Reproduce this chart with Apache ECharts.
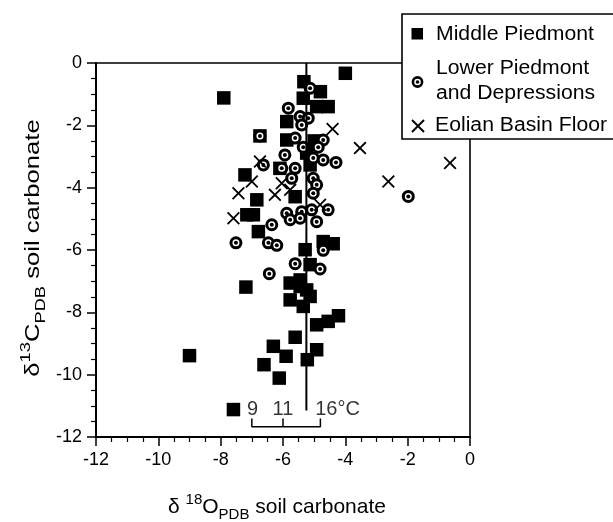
<!DOCTYPE html>
<html><head><meta charset="utf-8">
<script src="https://cdn.jsdelivr.net/npm/echarts@6/dist/echarts.min.js"></script>
<style>html,body{margin:0;padding:0;background:#fff}#c{width:613px;height:522px}</style>
</head><body><div id="c"></div>
<script>
// ---- data (δ18O, δ13C) ----
const middlePiedmont = [
  [-4.0,-0.33],[-7.9,-1.12],[-5.33,-0.6],[-4.8,-0.92],[-5.35,-1.13],[-4.55,-1.4],[-4.92,-1.4],
  [-5.88,-1.88],[-5.88,-2.47],[-6.74,-2.34],[-5.0,-2.5],[-5.24,-2.89],[-5.13,-3.27],[-6.1,-3.38],
  [-7.22,-3.59],[-6.84,-4.39],[-5.61,-4.29],[-6.95,-4.87],[-7.16,-4.87],[-6.79,-5.41],
  [-4.71,-5.73],[-4.39,-5.8],[-5.29,-5.99],[-7.19,-7.19],[-5.77,-7.06],[-5.45,-6.96],
  [-5.13,-6.47],[-5.24,-7.28],[-5.77,-7.6],[-5.35,-7.81],[-5.13,-7.49],[-5.45,-7.17],
  [-4.92,-8.4],[-4.55,-8.29],[-4.22,-8.11],[-5.61,-8.8],[-4.92,-9.2],[-6.31,-9.09],
  [-5.9,-9.41],[-5.22,-9.52],[-6.61,-9.68],[-6.12,-10.11],[-7.59,-11.12],[-9.0,-9.39]
];
const lowerPiedmont = [
  [-5.13,-0.81],[-5.83,-1.45],[-5.45,-1.72],[-5.19,-1.77],[-5.4,-1.99],[-6.74,-2.34],
  [-5.61,-2.41],[-4.71,-2.47],[-5.35,-2.7],[-4.87,-2.7],[-5.94,-2.95],[-5.03,-3.05],
  [-4.71,-3.11],[-4.3,-3.19],[-6.04,-3.38],[-5.61,-3.38],[-5.03,-3.7],[-5.72,-3.7],
  [-4.92,-3.91],[-5.03,-4.18],[-4.55,-4.71],[-5.88,-4.82],[-5.4,-4.77],[-5.08,-4.71],
  [-5.77,-5.03],[-5.45,-4.98],[-4.92,-5.09],[-6.36,-5.19],[-6.63,-3.27],[-7.51,-5.77],
  [-6.47,-5.77],[-6.2,-5.85],[-4.71,-6.01],[-5.61,-6.44],[-4.81,-6.61],[-6.44,-6.76],
  [-1.98,-4.28]
];
const eolianBasinFloor = [
  [-4.41,-2.12],[-3.53,-2.73],[-0.64,-3.21],[-2.62,-3.8],[-6.74,-3.16],[-7.0,-3.8],
  [-7.43,-4.18],[-6.26,-4.23],[-6.04,-3.86],[-5.77,-4.07],[-7.59,-4.98],[-4.81,-4.55]
];
const legendNames = ['Middle Piedmont', 'Lower Piedmont', 'and Depressions', 'Eolian Basin Floor'];
// temperature annotation
const tempLineX = -5.25, tempLineTop = 0, tempLineBottom = -11.15;
const bracketX = [-7.0, -6.0, -4.8];
const bracketY = [-11.41, -11.67];
const tempLabels = ['9', '11', '16°C'];
const tempLabelX = [-6.98, -6.0, -4.25];
const tempLabelY = -11.12;
// axes
const xTicks = [-12, -10, -8, -6, -4, -2, 0];
const yTicks = [-12, -10, -8, -6, -4, -2, 0];

const FONT = "'Liberation Sans', Arial, Helvetica, sans-serif";
const chart = echarts.init(document.getElementById('c'), null, {renderer: 'canvas'});

const axisCommon = {
  axisLine: {show: true, onZero: false, lineStyle: {color: '#000', width: 2}},
  axisTick: {show: true, inside: false, length: 9, lineStyle: {color: '#000', width: 1.5}},
  minorTick: {show: true, splitNumber: 4, length: 5, lineStyle: {color: '#000', width: 1.2}},
  splitLine: {show: false},
  axisLabel: {color: '#000', fontSize: 18, fontFamily: FONT, margin: 14}
};
const hiddenAxis = {
  axisLine: {show: true, onZero: false, lineStyle: {color: '#000', width: 1.6}},
  axisTick: {show: false}, axisLabel: {show: false}, splitLine: {show: false}
};

const xPath = 'path://M1,0L5,4L9,0L10,1L6,5L10,9L9,10L5,6L1,10L0,9L4,5L0,1Z';

const richTitle = {
  n: {fontSize: 21, fontFamily: FONT, lineHeight: 30, verticalAlign: 'middle', fill: '#000'},
  sup: {fontSize: 15, fontFamily: FONT, lineHeight: 15, verticalAlign: 'top', fill: '#000'},
  sub: {fontSize: 15, fontFamily: FONT, lineHeight: 15, verticalAlign: 'bottom', fill: '#000'}
};

const option = {
  animation: false,
  backgroundColor: '#fff',
  grid: {left: 96, right: 143, top: 63, bottom: 85, containLabel: false},
  xAxis: [
    Object.assign({type: 'value', position: 'bottom', min: xTicks[0], max: xTicks[xTicks.length-1], interval: xTicks[1]-xTicks[0]}, axisCommon),
    Object.assign({type: 'value', position: 'top', min: xTicks[0], max: xTicks[xTicks.length-1]}, hiddenAxis)
  ],
  yAxis: [
    Object.assign({type: 'value', position: 'left', min: yTicks[0], max: yTicks[yTicks.length-1], interval: yTicks[1]-yTicks[0]}, axisCommon),
    Object.assign({type: 'value', position: 'right', min: yTicks[0], max: yTicks[yTicks.length-1]}, hiddenAxis)
  ],
  series: [
    {name: legendNames[0], type: 'scatter', data: middlePiedmont, symbol: 'rect', symbolSize: 13.5,
      itemStyle: {color: '#000', opacity: 1}, z: 2},
    {name: legendNames[1], type: 'scatter', data: lowerPiedmont, symbol: 'circle', symbolSize: 10,
      itemStyle: {color: '#fff', borderColor: '#000', borderWidth: 3, opacity: 1}, z: 3},
    {name: 'dots', type: 'scatter', data: lowerPiedmont, symbol: 'circle', symbolSize: 4,
      itemStyle: {color: '#000', opacity: 1}, z: 4, silent: true},
    {name: legendNames[3], type: 'scatter', data: eolianBasinFloor, symbol: xPath, symbolSize: 13,
      itemStyle: {color: '#000', opacity: 1}, z: 5},
    {type: 'line', data: [[tempLineX, tempLineTop], [tempLineX, tempLineBottom]], symbol: 'none',
      lineStyle: {color: '#000', width: 2}, z: 6, silent: true},
    {type: 'line', data: [[bracketX[0], bracketY[0]], [bracketX[0], bracketY[1]], [bracketX[2], bracketY[1]], [bracketX[2], bracketY[0]]],
      symbol: 'none', lineStyle: {color: '#000', width: 1.5}, z: 6, silent: true},
    {type: 'line', data: [[bracketX[1], bracketY[1]], [bracketX[1], bracketY[0]]],
      symbol: 'none', lineStyle: {color: '#000', width: 1.5}, z: 6, silent: true},
    {type: 'scatter', data: tempLabels.map((t, i) => [tempLabelX[i], tempLabelY, t]), symbolSize: 0,
      label: {show: true, position: 'inside', formatter: p => p.data[2], color: '#000', fontSize: 20, fontFamily: FONT},
      z: 7, silent: true}
  ],
  graphic: [
    {type: 'rect', z: 100, shape: {x: 402, y: 14, width: 260, height: 125}, style: {fill: '#fff', stroke: '#000', lineWidth: 1.6}},
    {type: 'rect', z: 101, shape: {x: 411.5, y: 28, width: 11.5, height: 11.5}, style: {fill: '#000'}},
    {type: 'circle', z: 101, shape: {cx: 417.5, cy: 82, r: 4.6}, style: {fill: '#fff', stroke: '#000', lineWidth: 2.6}},
    {type: 'circle', z: 102, shape: {cx: 417.5, cy: 82, r: 1.8}, style: {fill: '#000'}},
    {type: 'line', z: 101, shape: {x1: 412, y1: 120, x2: 424, y2: 132}, style: {stroke: '#000', lineWidth: 2}},
    {type: 'line', z: 101, shape: {x1: 424, y1: 120, x2: 412, y2: 132}, style: {stroke: '#000', lineWidth: 2}},
    {type: 'text', z: 101, x: 436, y: 34, scaleX: 1.06, style: {text: legendNames[0], fill: '#000', font: '20px ' + FONT, textAlign: 'left', textVerticalAlign: 'middle'}},
    {type: 'text', z: 101, x: 436, y: 68.5, scaleX: 1.06, style: {text: legendNames[1], fill: '#000', font: '20px ' + FONT, textAlign: 'left', textVerticalAlign: 'middle'}},
    {type: 'text', z: 101, x: 436, y: 93.5, scaleX: 1.06, style: {text: legendNames[2], fill: '#000', font: '20px ' + FONT, textAlign: 'left', textVerticalAlign: 'middle'}},
    {type: 'text', z: 101, x: 435, y: 125.5, scaleX: 1.06, style: {text: legendNames[3], fill: '#000', font: '20px ' + FONT, textAlign: 'left', textVerticalAlign: 'middle'}},
    {type: 'text', z: 101, x: 277, y: 507, style: {
      text: '{n|δ }{sup|18}{n|O}{sub|PDB}{n| soil carbonate}', textAlign: 'center', textVerticalAlign: 'middle',
      fill: '#000', rich: richTitle}},
    {type: 'text', z: 101, x: 33, y: 248, rotation: Math.PI / 2, scaleX: 1.22, style: {
      text: '{n|δ}{sup|13}{n|C}{sub|PDB}{n| soil carbonate}', textAlign: 'center', textVerticalAlign: 'middle',
      fill: '#000', rich: richTitle}}
  ]
};
chart.setOption(option);
</script>
</body></html>
